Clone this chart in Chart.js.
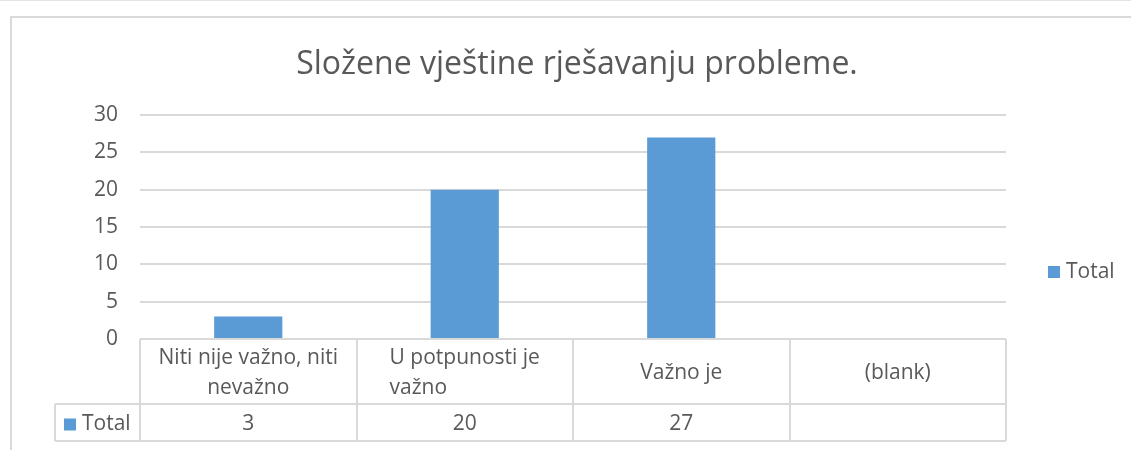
<!DOCTYPE html>
<html>
<head>
<meta charset="utf-8">
<script src="https://cdn.jsdelivr.net/npm/chart.js@4"></script>
<style>
  html, body { margin: 0; padding: 0; background: #fff; }
  #wrap { width: 1131px; height: 450px; }
</style>
</head>
<body>
<div id="wrap"><canvas id="chart" width="1131" height="450"></canvas></div>
<script>
const titleText = 'Složene vještine rješavanju probleme.';
const categories = [
    ['Niti nije važno, niti', 'nevažno'],
    ['U potpunosti je', 'važno'],
    ['Važno je'],
    ['(blank)']
];
const seriesName = 'Total';
const totals = [3, 20, 27, null];
const yTicks = [0, 5, 10, 15, 20, 25, 30];

const FONT = '"Open Sans", "Noto Sans", sans-serif';
const TEXT = '#595959';
const LINE = '#d9d9d9';
const BLUE = '#5b9bd5';
const lineAlign = ['center', 'left', 'center', 'center']; // excel wraps the 2nd label oddly

// frame, title, legend and the data table under the plot (drawn from the x scale)
const tablePlugin = {
    id: 'dataTable',
    beforeDraw(chart) {
        const ctx = chart.ctx;
        ctx.save();
        ctx.strokeStyle = '#e3e3e3';
        ctx.lineWidth = 1;
        ctx.beginPath();
        ctx.moveTo(0, 0.5); ctx.lineTo(chart.width, 0.5);
        ctx.stroke();
        ctx.strokeStyle = LINE;
        ctx.lineWidth = 2;
        ctx.beginPath();
        ctx.moveTo(11, chart.height); ctx.lineTo(11, 17); ctx.lineTo(chart.width, 17);
        ctx.stroke();

        ctx.fillStyle = TEXT;
        ctx.font = '32px ' + FONT;
        ctx.textAlign = 'center';
        ctx.textBaseline = 'middle';
        ctx.fillText(titleText, 577, 65);
        ctx.restore();
    },
    afterDraw(chart) {
        const ctx = chart.ctx;
        const x = chart.scales.x;
        const area = chart.chartArea;
        const n = categories.length;
        const cw = (area.right - area.left) / n;
        const top = area.bottom;
        const mid = top + 65;
        const bot = top + 102;
        const keyLeft = 55;
        const rowY = (mid + bot) / 2 + 2;

        ctx.save();
        ctx.strokeStyle = LINE;
        ctx.lineWidth = 2;
        ctx.beginPath();
        ctx.moveTo(area.left, top); ctx.lineTo(area.right, top);
        ctx.moveTo(keyLeft, mid); ctx.lineTo(area.right, mid);
        ctx.moveTo(keyLeft, bot); ctx.lineTo(area.right, bot);
        for (let i = 0; i <= n; i++) {
            const px = Math.round(area.left + i * cw);
            ctx.moveTo(px, top); ctx.lineTo(px, bot);
        }
        ctx.moveTo(keyLeft, mid); ctx.lineTo(keyLeft, bot);
        ctx.stroke();

        ctx.fillStyle = TEXT;
        ctx.font = '21px ' + FONT;
        ctx.textBaseline = 'middle';
        categories.forEach((lines, i) => {
            const cx = x.getPixelForValue(i);
            const ly = lines.length > 1 ? [top + 19, top + 49] : [top + 34];
            if (lineAlign[i] === 'left' && lines.length > 1) {
                const w = ctx.measureText(lines[0]).width;
                ctx.textAlign = 'left';
                lines.forEach((t, j) => ctx.fillText(t, cx - w / 2, ly[j]));
            } else {
                ctx.textAlign = 'center';
                lines.forEach((t, j) => ctx.fillText(t, cx, ly[j]));
            }
            if (totals[i] != null) {
                ctx.textAlign = 'center';
                ctx.fillText(String(totals[i]), cx, rowY);
            }
        });

        // series key in the table
        ctx.fillStyle = BLUE;
        ctx.fillRect(64, rowY - 6, 12, 12);
        ctx.fillStyle = TEXT;
        ctx.textAlign = 'left';
        ctx.fillText(seriesName, 82, rowY);

        // legend on the right
        const ly = 272;
        ctx.fillStyle = BLUE;
        ctx.fillRect(1048, ly - 6, 12, 12);
        ctx.fillStyle = TEXT;
        ctx.fillText(seriesName, 1066, ly);
        ctx.restore();
    }
};

new Chart(document.getElementById('chart'), {
    type: 'bar',
    data: {
        labels: categories.map(c => c.join(' ')),
        datasets: [{
            label: seriesName,
            data: totals,
            backgroundColor: BLUE,
            borderWidth: 0,
            categoryPercentage: 1,
            barPercentage: 0.315
        }]
    },
    options: {
        responsive: false,
        animation: false,
        layout: { padding: { left: 10, right: 125, top: 115, bottom: 9 } },
        plugins: {
            legend: { display: false },
            tooltip: { enabled: false },
            title: { display: false }
        },
        scales: {
            x: {
                grid: { display: false },
                border: { display: false },
                ticks: { display: false },
                afterFit(scale) { scale.height = 102; }
            },
            y: {
                min: 0,
                max: 30,
                afterBuildTicks(scale) { scale.ticks = yTicks.map(v => ({ value: v })); },
                afterFit(scale) { scale.width = 130; },
                border: { display: false },
                grid: { color: LINE, lineWidth: 2, drawTicks: false },
                ticks: {
                    color: TEXT,
                    padding: 22,
                    font: { family: FONT, size: 21 }
                }
            }
        }
    },
    plugins: [tablePlugin]
});
</script>
</body>
</html>
